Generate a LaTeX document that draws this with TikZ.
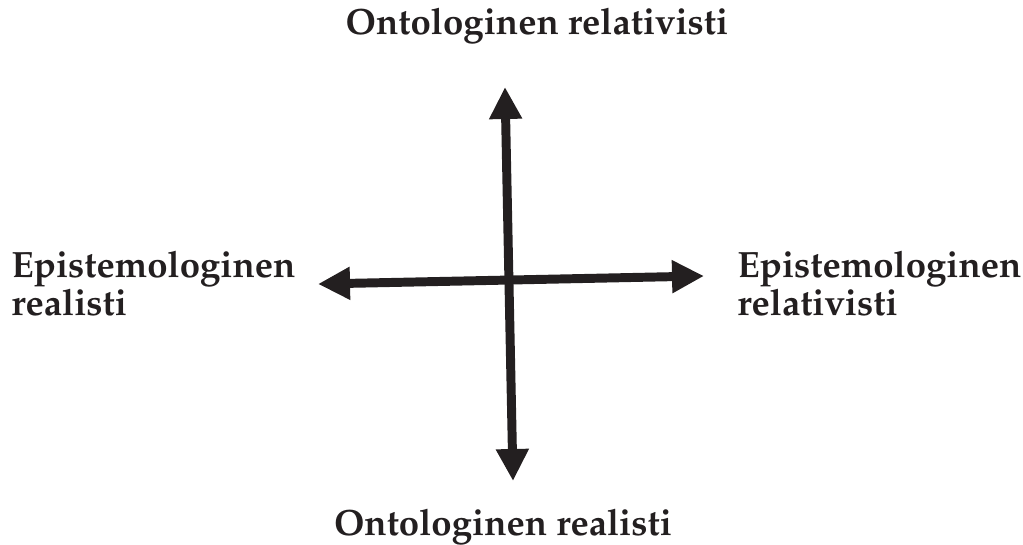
\documentclass[tikz,border=0pt]{standalone}
\usepackage[T1]{fontenc}
\usepackage{mathpazo}
\usetikzlibrary{arrows.meta}
\definecolor{inkgray}{HTML}{231F20}
\begin{document}
\begin{tikzpicture}[
  x=0.02cm, y=-0.02cm,
  tnode/.style={inner sep=0pt, text=inkgray, font=\fontsize{20.8}{21.6}\selectfont\bfseries, align=left},
  axisline/.style={draw=inkgray, line width=5.1pt, {Triangle[length=0.64cm,width=0.62cm]}-{Triangle[length=0.64cm,width=0.62cm]}}
]
  \useasboundingbox (0,0) rectangle (1023,544);

  % ylä- ja alaotsikot
  \node[tnode, anchor=base] (top) at (537,35) {Ontologinen relativisti};
  \node[tnode, anchor=base] (bottom) at (503,535) {Ontologinen realisti};

  % sivuotsikot
  \node[tnode, anchor=base west] (left) at (11,315) {Epistemologinen\\realisti};
  \node[tnode, anchor=base west] (right) at (737,315) {Epistemologinen\\relativisti};

  % akselit
  \coordinate (vtop) at (505,87);
  \coordinate (vbot) at (513,481);
  \coordinate (hleft) at (318,284);
  \coordinate (hright) at (704,276);
  \draw[axisline] (vtop) -- (vbot);
  \draw[axisline] (hleft) -- (hright);
\end{tikzpicture}
\end{document}
